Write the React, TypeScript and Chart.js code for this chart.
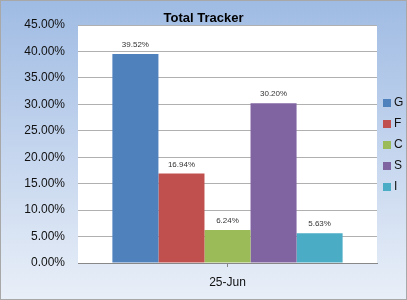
import React, { useEffect, useRef } from "react";
import { Chart, registerables } from "chart.js";

Chart.register(...registerables);

const categories = ["25-Jun"];
const seriesNames = ["G", "F", "C", "S", "I"];
const seriesValues = [39.52, 16.94, 6.24, 30.2, 5.63];
const seriesColors = ["#4f81bd", "#c0504d", "#9bbb59", "#8064a2", "#4bacc6"];

const FONT = "'Liberation Sans', Arial, sans-serif";

const bgPlugin = {
  id: "bgPlugin",
  beforeDraw(chart: any) {
    const { ctx, width, height, chartArea } = chart;
    ctx.save();
    const g = ctx.createLinearGradient(0, 0, 0, height);
    g.addColorStop(0, "#9fbbe3");
    g.addColorStop(0.5, "#c4d5ee");
    g.addColorStop(1, "#e9eff8");
    ctx.fillStyle = g;
    ctx.fillRect(0, 0, width, height);
    ctx.strokeStyle = "#a8a8a8";
    ctx.lineWidth = 1;
    ctx.strokeRect(0.5, 0.5, width - 1, height - 1);
    ctx.fillStyle = "#ffffff";
    ctx.fillRect(chartArea.left, chartArea.top, chartArea.right - chartArea.left, chartArea.bottom - chartArea.top);
    ctx.restore();
  },
};

const labelPlugin = {
  id: "labelPlugin",
  afterDatasetsDraw(chart: any) {
    const { ctx } = chart;
    ctx.save();
    ctx.font = "8px " + FONT;
    ctx.fillStyle = "#333333";
    ctx.textAlign = "center";
    ctx.textBaseline = "middle";
    chart.data.datasets.forEach((ds: any, i: number) => {
      const meta = chart.getDatasetMeta(i);
      meta.data.forEach((el: any, j: number) => {
        ctx.fillText(Number(ds.data[j]).toFixed(2) + "%", el.x, el.y - 9);
      });
    });
    ctx.restore();
  },
};

const legendPlugin = {
  id: "sideLegend",
  afterDraw(chart: any) {
    const { ctx, chartArea } = chart;
    const items = chart.data.datasets;
    const step = 21;
    const cy = (chartArea.top + chartArea.bottom) / 2 + 1;
    const y0 = cy - ((items.length - 1) * step) / 2;
    ctx.save();
    ctx.font = "12px " + FONT;
    ctx.textBaseline = "middle";
    ctx.textAlign = "left";
    items.forEach((ds: any, i: number) => {
      const y = y0 + i * step;
      const x = chartArea.right + 6;
      ctx.fillStyle = ds.backgroundColor;
      ctx.fillRect(x, y - 4, 8, 8);
      ctx.fillStyle = "#111111";
      ctx.fillText(ds.label, x + 11, y);
    });
    ctx.restore();
  },
};

export default function App() {
  const ref = useRef<HTMLCanvasElement>(null);
  useEffect(() => {
    document.body.style.margin = "0";
    const chart = new Chart(ref.current!, {
      type: "bar",
      data: {
        labels: categories,
        datasets: seriesNames.map((n, i) => ({
          label: n,
          data: [seriesValues[i]],
          backgroundColor: seriesColors[i],
          borderWidth: 0,
          categoryPercentage: 0.77,
          barPercentage: 1,
        })),
      },
      options: {
        animation: false,
        responsive: false,
        maintainAspectRatio: false,
        layout: { padding: 0 },
        plugins: {
          title: {
            display: true,
            text: "Total Tracker",
            color: "#000000",
            font: { family: FONT, size: 13, weight: "bold", lineHeight: 1 },
            padding: { top: 12, bottom: 0 },
          },
          legend: { display: false },
          tooltip: { enabled: false },
        },
        scales: {
          x: {
            grid: { display: true, drawOnChartArea: false, drawTicks: true, tickLength: 4, color: "#888888", offset: false },
            border: { color: "#888888" },
            ticks: {
              color: "#111111",
              padding: 8,
              font: { family: FONT, size: 12 },
            },
            afterFit(scale: any) {
              scale.height = 37;
            },
          },
          y: {
            min: 0,
            max: 45,
            grid: { color: "#b0b0b0", drawTicks: false },
            border: { display: false },
            ticks: {
              stepSize: 5,
              padding: 13,
              color: "#111111",
              font: { family: FONT, size: 12 },
              callback: (v: any) => Number(v).toFixed(2) + "%",
            },
            afterFit(scale: any) {
              scale.width = 78;
            },
          },
          yRight: {
            position: "right",
            min: 0,
            max: 45,
            grid: { display: false, drawOnChartArea: false },
            border: { display: false },
            ticks: { display: false },
            afterFit(scale: any) {
              scale.width = 30;
            },
          },
        },
      },
      plugins: [bgPlugin, labelPlugin, legendPlugin],
    });
    return () => chart.destroy();
  }, []);
  return (
    <div style={{ width: 407, height: 300 }}>
      <canvas ref={ref} width={407} height={300} />
    </div>
  );
}
